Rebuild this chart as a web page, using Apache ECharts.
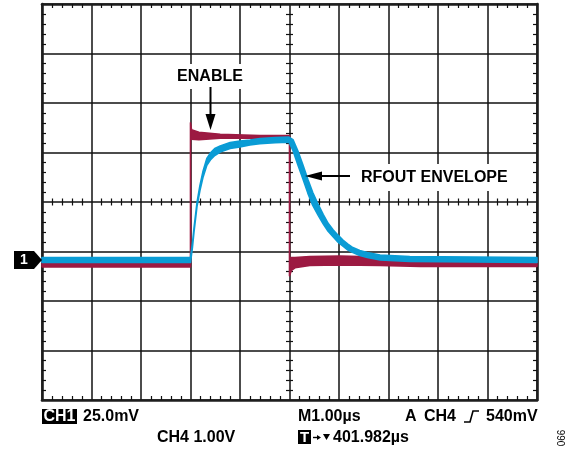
<!DOCTYPE html>
<html>
<head>
<meta charset="utf-8">
<script src="https://cdn.jsdelivr.net/npm/echarts@6/dist/echarts.min.js"></script>
<style>
  html, body { margin: 0; padding: 0; background: #fff; }
  #chart { width: 574px; height: 450px; }
</style>
</head>
<body>
<div id="chart"></div>
<script>
// Time base: 1.00 µs per division, trigger at screen centre (µs)
const timeRange = [-5, 5];
// Vertical scale in screen divisions
const divRange = [-4, 4];
const divStep = 1;
const subDivsPerDiv = 5;

// CH1 ground reference level (divisions)
const ch1Level = -1.17;

// RFOUT envelope (CH1): [time µs, envelope min, envelope max] in divisions
const rfoutTrace = [
  [-5.00, -1.22, -1.12],
  [-2.00, -1.22, -1.12],
  [-1.96, -0.91, -0.83],
  [-1.93, -0.61, -0.53],
  [-1.87, -0.10, -0.02],
  [-1.81, 0.23, 0.33],
  [-1.75, 0.49, 0.61],
  [-1.67, 0.74, 0.88],
  [-1.59, 0.86, 1.00],
  [-1.51, 0.94, 1.08],
  [-1.40, 1.01, 1.13],
  [-1.20, 1.08, 1.20],
  [-1.00, 1.11, 1.23],
  [-0.80, 1.15, 1.25],
  [-0.60, 1.18, 1.28],
  [-0.29, 1.20, 1.30],
  [-0.01, 1.21, 1.31],
  [0.07, 1.04, 1.26],
  [0.17, 0.75, 1.03],
  [0.27, 0.47, 0.75],
  [0.37, 0.18, 0.46],
  [0.47, -0.07, 0.19],
  [0.58, -0.27, -0.05],
  [0.68, -0.44, -0.25],
  [0.78, -0.59, -0.43],
  [0.88, -0.70, -0.56],
  [0.98, -0.81, -0.67],
  [1.08, -0.89, -0.77],
  [1.18, -0.97, -0.85],
  [1.28, -1.02, -0.92],
  [1.42, -1.08, -0.98],
  [1.57, -1.12, -1.02],
  [1.83, -1.17, -1.07],
  [2.43, -1.20, -1.10],
  [5.00, -1.22, -1.12]
];

// ENABLE (CH4): [time µs, envelope min, envelope max] in divisions
const enableTrace = [
  [-5.00, -1.31, -1.15],
  [-2.00, -1.31, -1.15],
  [-2.00, 1.29, 1.60],
  [-1.98, 1.27, 1.46],
  [-1.83, 1.26, 1.41],
  [-1.40, 1.29, 1.37],
  [-0.60, 1.29, 1.34],
  [0.00, 1.29, 1.34],
  [0.00, -1.49, -1.13],
  [0.04, -1.38, -1.12],
  [0.11, -1.33, -1.12],
  [0.41, -1.28, -1.10],
  [1.02, -1.27, -1.09],
  [1.83, -1.28, -1.11],
  [2.64, -1.30, -1.15],
  [5.00, -1.30, -1.15]
];

const FONT = '"Liberation Sans", Arial, Helvetica, sans-serif';
const INK = '#111';
const RED = '#9c1a42';
const BLUE = '#0a9cd5';

// Filled envelope between the min and max traces of a channel
function envelopeSeries(name, trace, color, z) {
  return {
    type: 'custom',
    name: name,
    coordinateSystem: 'cartesian2d',
    data: trace,
    encode: { x: 0, y: [1, 2] },
    silent: true,
    z: z,
    renderItem: function (params, api) {
      if (params.dataIndex !== 0) return null;
      const upper = trace.map(p => api.coord([p[0], p[2]]));
      const lower = trace.map(p => api.coord([p[0], p[1]])).reverse();
      return {
        type: 'polygon',
        shape: { points: upper.concat(lower) },
        style: { fill: color, stroke: color, lineWidth: 1.6, lineJoin: 'round' }
      };
    }
  };
}

// Sub-division positions along each axis (0.2 div steps)
function subDivisions(range) {
  const out = [];
  const n = (range[1] - range[0]) * subDivsPerDiv;
  for (let i = 1; i < n; i++) {
    if (i % subDivsPerDiv !== 0) out.push(range[0] + i / subDivsPerDiv);
  }
  return out;
}
const xSubTicks = subDivisions(timeRange);
const ySubTicks = subDivisions(divRange);

// Graticule tick marks: on the frame (pointing inward) and across the centre lines
const graticuleTicks = {
  type: 'custom',
  coordinateSystem: 'cartesian2d',
  data: [[0, 0]],
  silent: true,
  z: 3,
  renderItem: function (params, api) {
    const cs = params.coordSys;
    const left = cs.x, right = cs.x + cs.width, top = cs.y, bottom = cs.y + cs.height;
    const centre = api.coord([0, 0]);
    const edge = 4, half = 3.5;
    const style = { stroke: INK, lineWidth: 1.2 };
    const children = [];
    xSubTicks.forEach(function (t) {
      const x = Math.round(api.coord([t, 0])[0]) + 0.5;
      children.push({ type: 'line', shape: { x1: x, y1: top, x2: x, y2: top + edge }, style: style });
      children.push({ type: 'line', shape: { x1: x, y1: bottom - edge, x2: x, y2: bottom }, style: style });
      children.push({ type: 'line', shape: { x1: x, y1: centre[1] - half, x2: x, y2: centre[1] + half }, style: style });
    });
    ySubTicks.forEach(function (v) {
      const y = Math.round(api.coord([0, v])[1]) + 0.5;
      children.push({ type: 'line', shape: { x1: left, y1: y, x2: left + edge, y2: y }, style: style });
      children.push({ type: 'line', shape: { x1: right - edge, y1: y, x2: right, y2: y }, style: style });
      children.push({ type: 'line', shape: { x1: centre[0] - half, y1: y, x2: centre[0] + half, y2: y }, style: style });
    });
    return { type: 'group', children: children };
  }
};

const frameLine = { show: true, onZero: false, lineStyle: { color: '#1e1e1e', width: 2.6 } };
const gridLines = { show: true, lineStyle: { color: INK, width: 1.5 } };

function gridAxis(range, position, withGrid) {
  return {
    type: 'value', position: position,
    min: range[0], max: range[1], interval: divStep,
    axisLabel: { show: false },
    axisTick: { show: false },
    splitLine: withGrid ? gridLines : { show: false },
    axisLine: frameLine
  };
}

const chart = echarts.init(document.getElementById('chart'), null, { renderer: 'canvas' });

chart.setOption({
  animation: false,
  backgroundColor: '#fff',
  grid: { left: 42, top: 4, width: 495, height: 396, containLabel: false },
  xAxis: [gridAxis(timeRange, 'bottom', true), gridAxis(timeRange, 'top', false)],
  yAxis: [gridAxis(divRange, 'left', true), gridAxis(divRange, 'right', false)],
  series: [
    graticuleTicks,
    envelopeSeries('ENABLE', enableTrace, RED, 5),
    envelopeSeries('RFOUT ENVELOPE', rfoutTrace, BLUE, 6)
  ]
});

// Channel 1 ground marker, placed at the CH1 reference level
const markerY = chart.convertToPixel({ yAxisIndex: 0 }, ch1Level);
const plotLeft = chart.convertToPixel({ xAxisIndex: 0 }, timeRange[0]);

const bold16 = 'bold 16px ' + FONT;
const bold15 = 'bold 15px ' + FONT;

function label(text, x, y, opts) {
  return Object.assign({
    type: 'text', x: x, y: y, z: 100,
    style: Object.assign({ text: text, font: bold16, fill: '#000', align: 'left', verticalAlign: 'middle' }, (opts && opts.style) || {})
  }, opts && opts.el ? opts.el : {});
}

chart.setOption({
  graphic: [
    // CH1 marker
    {
      type: 'polygon', z: 100,
      shape: { points: [[14, markerY - 9], [34, markerY - 9], [plotLeft, markerY], [34, markerY + 9], [14, markerY + 9]] },
      style: { fill: '#000' }
    },
    label('1', 24, markerY + 0.5, { style: { fill: '#fff', align: 'center', font: 'bold 14px ' + FONT } }),

    // ENABLE annotation
    label('ENABLE', 210, 76.5, { style: { align: 'center', backgroundColor: '#fff', padding: [5, 6, 4, 6] } }),
    { type: 'line', z: 100, shape: { x1: 210.5, y1: 87, x2: 210.5, y2: 117 }, style: { stroke: '#000', lineWidth: 2 } },
    { type: 'polygon', z: 100, shape: { points: [[205.5, 114], [215.5, 114], [210.5, 130]] }, style: { fill: '#000' } },

    // RFOUT ENVELOPE annotation
    label('RFOUT ENVELOPE', 357, 177.5, { style: { backgroundColor: '#fff', padding: [6, 5, 5, 4] } }),
    { type: 'line', z: 100, shape: { x1: 350, y1: 176, x2: 318, y2: 176 }, style: { stroke: '#000', lineWidth: 2 } },
    { type: 'polygon', z: 100, shape: { points: [[322, 171.5], [322, 180.5], [305, 176]] }, style: { fill: '#000' } },

    // Readout, first row
    { type: 'rect', z: 100, shape: { x: 42, y: 409, width: 35, height: 15 }, style: { fill: '#000' } },
    label('CH1', 59.5, 416.5, { style: { fill: '#fff', align: 'center', font: 'bold 16px ' + FONT } }),
    label('25.0mV', 83, 416.5),
    label('M1.00µs', 298, 416.5),
    label('A', 405, 416.5),
    label('CH4', 424, 416.5),
    { type: 'polyline', z: 100, shape: { points: [[464, 422], [470, 422], [473, 411], [479, 411]] }, style: { stroke: '#000', lineWidth: 1.6, fill: null } },
    label('540mV', 486, 416.5),

    // Readout, second row
    label('CH4 1.00V', 157, 437.5),
    { type: 'rect', z: 100, shape: { x: 298, y: 430, width: 13, height: 14 }, style: { fill: '#000' } },
    label('T', 304.5, 437.5, { style: { fill: '#fff', align: 'center', font: bold15 } }),
    { type: 'line', z: 100, shape: { x1: 313, y1: 437.5, x2: 318, y2: 437.5 }, style: { stroke: '#000', lineWidth: 1.4 } },
    { type: 'polygon', z: 100, shape: { points: [[317, 435], [317, 440], [321, 437.5]] }, style: { fill: '#000' } },
    { type: 'polygon', z: 100, shape: { points: [[323, 434], [330, 434], [326.5, 440]] }, style: { fill: '#000' } },
    label('401.982µs', 333, 437.5),

    // Figure number
    label('066', 562, 438, { style: { align: 'center', font: '10px ' + FONT }, el: { rotation: Math.PI / 2 } })
  ]
});
</script>
</body>
</html>
